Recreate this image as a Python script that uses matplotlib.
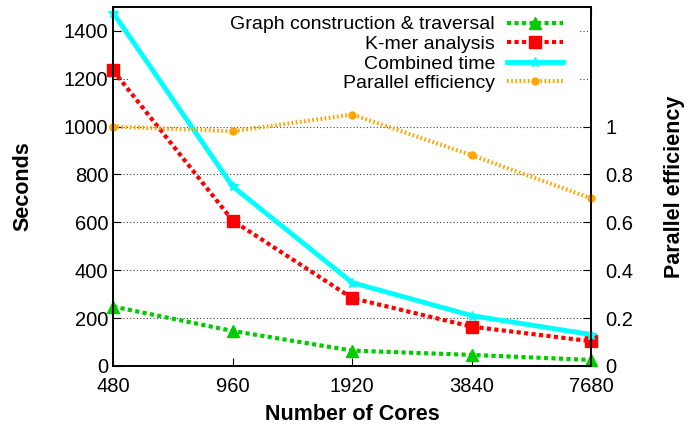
import numpy as np
import matplotlib.pyplot as plt
from matplotlib.ticker import FixedLocator, NullLocator
from matplotlib.patches import Rectangle

# data
cores = [480, 960, 1920, 3840, 7680]
graph_time = [248, 146, 64, 46, 25]
kmer_time = [1234, 607, 283, 164, 103]
combined_time = [1475, 750, 348, 210, 131]
efficiency = [1.0, 0.98, 1.05, 0.88, 0.70]

plt.rcParams['font.family'] = ['Liberation Sans', 'DejaVu Sans']

fig = plt.figure(figsize=(6.94, 4.25), dpi=100)
ax = fig.add_axes([0.163, 0.139, 0.689, 0.845])
ax2 = ax.twinx()

ax.set_xscale('log', base=2)
ax.set_xlim(480, 7680)
ax.set_ylim(0, 1500)
ax2.set_ylim(0, 1.5)

# opaque key background (covers grid, sits under the curves)
ax.add_patch(Rectangle((0.032, 0.76), 0.94, 0.24, transform=ax.transAxes,
                       facecolor='white', edgecolor='none', zorder=1.8))

l1, = ax.plot(cores, graph_time, color='#00cc00', lw=3, ls=(0, (1, 0.8)),
              marker='^', ms=9, label='Graph construction & traversal', clip_on=False)
l2, = ax.plot(cores, kmer_time, color='#ff0000', lw=3, ls=(0, (1, 0.8)),
              marker='s', ms=8, label='K-mer analysis', clip_on=False)
l3, = ax.plot(cores, combined_time, color='#00ffff', lw=3.5, ls='-',
              marker='*', ms=7, label='Combined time', clip_on=False)
l4, = ax2.plot(cores, efficiency, color='#ffa500', lw=3, ls=(0, (0.4, 0.6)),
               marker='o', ms=5, label='Parallel efficiency', clip_on=False)

ax.xaxis.set_major_locator(FixedLocator(cores))
ax.xaxis.set_minor_locator(NullLocator())
ax.set_xticklabels([str(c) for c in cores])
ax.set_yticks(np.arange(0, 1401, 200))
ax2.set_yticks([0, 0.2, 0.4, 0.6, 0.8, 1])
ax2.set_yticklabels(['0', '0.2', '0.4', '0.6', '0.8', '1'])

ax.grid(axis='y', ls=(0, (1, 2)), color='#444444', lw=0.8)
ax.tick_params(axis='x', direction='in', top=True, length=6, labelsize=14.5, pad=8)
ax.tick_params(axis='y', direction='in', length=6, labelsize=14.5)
ax2.tick_params(axis='y', direction='in', length=6, labelsize=14.5, pad=10)

for a in (ax, ax2):
    for s in a.spines.values():
        s.set_linewidth(1.2)

ax.set_xlabel('Number of Cores', fontsize=15.5, fontweight='bold', labelpad=6)
ax.set_ylabel('Seconds', fontsize=15.5, fontweight='bold', labelpad=22)
ax2.set_ylabel('Parallel efficiency', fontsize=15.5, fontweight='bold', labelpad=22)

leg = ax2.legend(handles=[l1, l2, l3, l4], loc='upper right',
                 bbox_to_anchor=(0.941, 0.975), markerfirst=False,
                 frameon=False, fontsize=14, handlelength=2.9, borderpad=0,
                 labelspacing=0.1, borderaxespad=0, handletextpad=0.6)
for t in leg.get_texts():
    t.set_ha('right')
leg._legend_box.align = 'right'

fig.savefig('out.png', dpi=100)
